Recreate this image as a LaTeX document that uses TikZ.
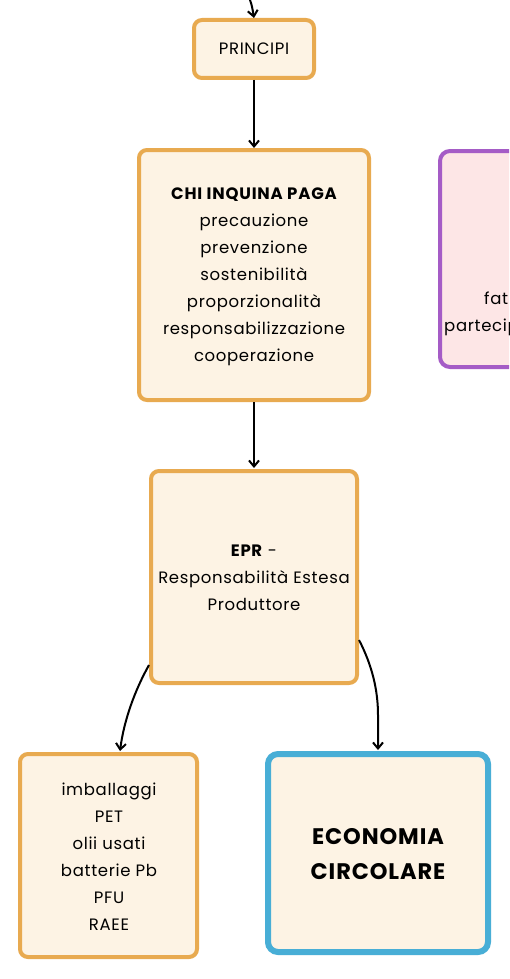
\documentclass[tikz,border=0pt]{standalone}
\usepackage{fontspec}
\setmainfont{Poppins}[LetterSpace=4]
\usetikzlibrary{arrows.meta}
\definecolor{ob}{HTML}{E8AA50}
\definecolor{of}{HTML}{FDF3E4}
\definecolor{bb}{HTML}{48AED6}
\definecolor{pb}{HTML}{A55CC6}
\definecolor{pf}{HTML}{FDE6E6}
\tikzset{
  obox/.style={draw=ob,fill=of,line width=4pt,rounded corners=8pt},
  bbox/.style={draw=bb,fill=of,line width=6pt,rounded corners=10pt},
  pbox/.style={draw=pb,fill=pf,line width=4pt,rounded corners=10pt},
  txt/.style={align=center,font=\fontsize{16.5}{27}\selectfont,text=black},
  conn/.style={line width=2pt,-{Straight Barb[length=6pt,width=10pt]}},
}
\begin{document}
\begin{tikzpicture}[x=1pt,y=-1pt]
\useasboundingbox (0,0) rectangle (509,979);
\clip (0,0) rectangle (509,979);
\fill[white] (0,0) rectangle (509,979);
% boxes
\draw[obox] (194,20) rectangle (314,78);
\node[txt] (p) at (254,49) {PRINCIPI};
\coordinate (ptop) at (254,18);
\coordinate (pbot) at (254,80);
\coordinate (start) at (250,0);

\draw[obox] (139,150) rectangle (369,400);
\node[txt] (chi) at (254,277) {{\fontspec{Poppins}[LetterSpace=5]\bfseries CHI INQUINA PAGA}\\precauzione\\prevenzione\\sostenibilità\\proporzionalità\\responsabilizzazione\\cooperazione};
\coordinate (ctop) at (254,148);
\coordinate (cbot) at (254,402);

\draw[pbox] (440,151) rectangle (680,367);
\node[txt,anchor=base west,inner sep=0pt] (f1) at (484,304) {fat};
\node[txt,anchor=base west,inner sep=0pt] (f2) at (444,331) {partecip};

\draw[obox] (151,471) rectangle (357,683);
\node[txt] (epr) at (254,578) {\textbf{EPR} -\\Responsabilità Estesa\\Produttore};
\coordinate (etop) at (254,468);
\coordinate (eleft) at (149,665);
\coordinate (eright) at (359,640);

\draw[obox] (20,754) rectangle (197,957);
\node[txt] (imb) at (109,857) {imballaggi\\PET\\olii usati\\batterie Pb\\PFU\\RAEE};
\coordinate (itop) at (120,751);

\draw[bbox] (268,754) rectangle (488,952);
\node[align=center,font=\fontsize{22.5}{35}\selectfont\bfseries] (eco) at (378,854) {ECONOMIA\\CIRCOLARE};
\coordinate (otop) at (378,750);

% connectors
\draw[conn] (start) .. controls (252,6) .. (ptop);
\draw[conn] (pbot) -- (ctop);
\draw[conn] (cbot) -- (etop);
\draw[conn] (eleft) .. controls (135,690) and (124,720) .. (itop);
\draw[conn] (eright) .. controls (372,665) and (378,690) .. (378,715) -- (otop);
\end{tikzpicture}
\end{document}
